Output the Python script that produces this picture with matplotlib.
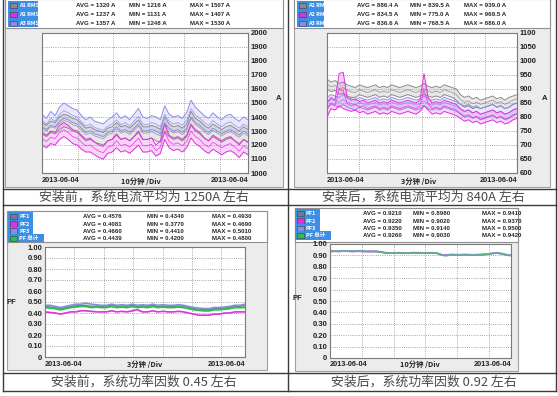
import numpy as np
import matplotlib
matplotlib.use('Agg')
import matplotlib.pyplot as plt
from matplotlib.patches import Rectangle

# ---------------- data ----------------
# Panel 1: current before (A)
P1_A1_HI = [1360,1340,1370,1360,1400,1420,1410,1390,1380,1350,1320,1330,1310,1300,1290,1320,1330,1360,1330,1340,1320,1350,1380,1330,
            1330,1340,1330,1310,1400,1350,1330,1340,1320,1350,1440,1390,1370,1340,1320,1350,1330,1310,1330,1340,1320,1300,1330,1310]
P1_A1_LO = [1280,1260,1290,1280,1310,1330,1320,1300,1290,1260,1230,1240,1220,1210,1200,1230,1240,1270,1240,1250,1230,1260,1290,1240,
            1240,1250,1230,1220,1300,1260,1240,1250,1230,1260,1340,1300,1280,1250,1230,1260,1240,1220,1240,1250,1230,1210,1240,1220]
P1_A2_HI = [1290,1270,1300,1290,1340,1360,1340,1310,1300,1270,1240,1250,1220,1200,1190,1230,1240,1280,1240,1250,1230,1260,1300,1240,
            1240,1250,1200,1230,1350,1270,1250,1260,1240,1270,1350,1310,1290,1250,1230,1270,1250,1230,1250,1260,1230,1200,1240,1220]
P1_A2_LO = [1200,1180,1210,1200,1240,1260,1240,1210,1200,1170,1150,1150,1130,1110,1100,1140,1150,1180,1150,1160,1140,1170,1200,1150,
            1150,1160,1120,1140,1240,1180,1160,1170,1150,1180,1250,1210,1190,1160,1140,1170,1150,1130,1150,1160,1140,1110,1150,1130]
P1_A3_HI = [1420,1390,1440,1410,1470,1500,1480,1460,1450,1410,1380,1400,1370,1360,1350,1380,1400,1430,1390,1410,1380,1420,1460,1400,
            1390,1410,1400,1380,1480,1420,1400,1410,1390,1430,1520,1470,1440,1410,1390,1430,1400,1380,1410,1420,1390,1370,1400,1380]
P1_A3_LO = [1330,1310,1340,1330,1370,1390,1380,1360,1350,1320,1290,1300,1280,1270,1260,1290,1300,1330,1300,1310,1290,1320,1350,1300,
            1300,1310,1300,1280,1360,1320,1300,1310,1290,1320,1400,1360,1340,1310,1290,1320,1300,1280,1300,1310,1290,1270,1300,1280]
P1_AVG = [1320, 1237, 1357]
P1_MIN = [1216, 1131, 1248]
P1_MAX = [1507, 1407, 1530]

# Panel 2: current after (A)
P2_A1_HI = [935,925,930,920,925,915,910,905,915,910,905,910,915,905,910,905,915,910,905,910,915,910,905,910,
            920,910,905,910,905,915,910,905,900,880,870,875,865,870,860,865,870,875,865,870,860,870,875,880]
P2_A1_LO = [900,890,895,880,885,875,870,870,880,875,870,875,880,870,875,870,880,875,870,875,880,875,870,875,
            880,875,870,875,870,880,875,870,860,845,835,840,830,835,830,835,840,845,835,840,830,835,845,850]
P2_A2_HI = [850,870,860,955,960,870,860,865,855,860,850,855,860,850,855,850,860,855,850,855,860,855,850,860,
            955,870,850,855,850,860,855,850,845,830,820,825,815,820,810,815,820,825,815,820,810,815,825,830]
P2_A2_LO = [800,830,825,840,830,825,820,825,815,820,810,815,820,810,815,810,820,815,810,815,820,815,810,820,
            840,825,810,815,810,820,815,810,805,795,785,790,780,785,775,780,785,790,780,785,775,780,790,795]
P2_A3_HI = [870,880,875,870,880,870,865,860,870,865,860,865,870,860,865,860,870,865,860,865,870,865,860,865,
            875,865,860,865,860,870,865,860,855,845,840,845,835,840,830,835,840,845,835,840,830,835,845,850]
P2_A3_LO = [835,845,840,835,845,835,830,825,835,830,825,830,835,825,830,825,835,830,825,830,835,830,825,830,
            840,830,825,830,825,835,830,825,820,810,800,805,795,800,790,795,800,805,795,800,790,795,805,810]
P2_AVG = [886.4, 834.5, 836.6]
P2_MIN = [839.5, 775.0, 768.5]
P2_MAX = [939.0, 969.5, 886.0]

# Panel 3: PF before
P3_PF1 = [0.46,0.455,0.45,0.44,0.45,0.46,0.465,0.47,0.47,0.46,0.465,0.46,0.46,0.47,0.46,0.465,0.46,0.47,0.46,0.465,
          0.46,0.47,0.46,0.465,0.46,0.46,0.465,0.46,0.45,0.44,0.435,0.43,0.43,0.44,0.44,0.445,0.45,0.46,0.46,0.47]
P3_PF2 = [0.41,0.405,0.40,0.39,0.40,0.41,0.41,0.42,0.42,0.415,0.41,0.41,0.41,0.42,0.41,0.415,0.41,0.42,0.43,0.41,
          0.41,0.42,0.41,0.415,0.41,0.41,0.415,0.41,0.40,0.39,0.38,0.38,0.38,0.39,0.39,0.40,0.40,0.41,0.41,0.41]
P3_PF3 = [0.47,0.47,0.46,0.45,0.46,0.47,0.48,0.48,0.49,0.48,0.475,0.47,0.47,0.48,0.47,0.475,0.47,0.48,0.47,0.475,
          0.47,0.48,0.47,0.475,0.47,0.47,0.475,0.47,0.46,0.45,0.445,0.44,0.44,0.45,0.45,0.455,0.46,0.47,0.47,0.48]
P3_PFT = [0.45,0.445,0.44,0.43,0.44,0.45,0.455,0.46,0.46,0.45,0.455,0.45,0.45,0.46,0.45,0.455,0.45,0.46,0.45,0.455,
          0.45,0.46,0.45,0.455,0.45,0.45,0.455,0.45,0.44,0.43,0.425,0.42,0.42,0.43,0.43,0.435,0.44,0.45,0.45,0.45]
P3_AVG = [0.4576, 0.4081, 0.4660, 0.4439]
P3_MIN = [0.4340, 0.3770, 0.4410, 0.4200]
P3_MAX = [0.4930, 0.4690, 0.5010, 0.4800]

# Panel 4: PF after
P4_PF1 = [0.935,0.937,0.935,0.938,0.936,0.935,0.937,0.936,0.935,0.934,0.935,0.930,0.922,0.920,0.921,0.922,0.920,0.921,0.923,0.922,
          0.920,0.921,0.922,0.920,0.905,0.900,0.906,0.905,0.904,0.906,0.905,0.904,0.905,0.907,0.910,0.918,0.922,0.915,0.905,0.900]
P4_PF2 = [0.933,0.935,0.934,0.936,0.935,0.934,0.935,0.934,0.933,0.933,0.933,0.928,0.920,0.918,0.919,0.920,0.918,0.919,0.921,0.920,
          0.918,0.919,0.920,0.918,0.907,0.903,0.908,0.907,0.906,0.908,0.907,0.906,0.907,0.909,0.912,0.916,0.920,0.913,0.907,0.903]
P4_PF3 = [0.938,0.940,0.938,0.941,0.939,0.938,0.940,0.939,0.938,0.937,0.938,0.933,0.925,0.923,0.924,0.925,0.923,0.924,0.926,0.925,
          0.923,0.924,0.925,0.923,0.908,0.903,0.909,0.908,0.907,0.909,0.908,0.907,0.908,0.910,0.913,0.921,0.925,0.918,0.908,0.903]
P4_PFT = [0.935,0.936,0.935,0.937,0.936,0.935,0.936,0.935,0.934,0.934,0.934,0.929,0.921,0.919,0.920,0.921,0.919,0.920,0.922,0.921,
          0.919,0.920,0.921,0.919,0.902,0.896,0.903,0.902,0.901,0.903,0.902,0.901,0.902,0.904,0.908,0.917,0.921,0.913,0.902,0.897]
P4_AVG = [0.9210, 0.9220, 0.9350, 0.9260]
P4_MIN = [0.8980, 0.9020, 0.9140, 0.9030]
P4_MAX = [0.9410, 0.9370, 0.9500, 0.9420]

CURRENT_LABELS = ['A1 RMS', 'A2 RMS', 'A3 RMS']
PF_LABELS = ['PF1', 'PF2', 'PF3', 'PF 总计']
DATE = '2013-06-04'
CAPTIONS = ['安装前，系统电流平均为 1250A 左右', '安装后，系统电流平均为 840A 左右',
            '安装前，系统功率因数 0.45 左右', '安装后，系统功率因数 0.92 左右']
DIVS = ['10分钟 /Div', '3分钟 /Div', '3分钟 /Div', '10分钟 /Div']

# ---------------- style ----------------
C_A1 = '#8a8a8a'
C_A2 = '#e030e0'
C_A3 = '#8c8ce6'
C_PF1 = '#6e7c9c'
C_PFT = '#2cc04a'
LEG_BG = '#3d8fe6'

NUM = ['Liberation Sans Narrow', 'Liberation Sans', 'DejaVu Sans']
MIX = ['Liberation Sans Narrow', 'Noto Sans CJK SC', 'DejaVu Sans']
CJK = ['Noto Sans CJK SC', 'DejaVu Sans']

W, H = 558, 396
fig = plt.figure(figsize=(W / 100, H / 100), dpi=100)
fig.patch.set_facecolor('white')

bg = fig.add_axes([0, 0, 1, 1])
bg.set_xlim(0, W)
bg.set_ylim(H, 0)
bg.axis('off')


def pax(x0, y0, x1, y1):
    return fig.add_axes([x0 / W, 1 - y1 / H, (x1 - x0) / W, (y1 - y0) / H])


def frame(x0, y0, x1, y1, hh):
    bg.add_patch(Rectangle((x0, y0), x1 - x0, y1 - y0, fc='#ececec', ec='#a0a0a0', lw=0.8))
    bg.add_patch(Rectangle((x0, y0), x1 - x0, hh, fc='white', ec='#909090', lw=0.8))


def header(xl, ys, labels, colors, xs, avg, mn, mx, fmt, legw):
    for i, (y, lab, col) in enumerate(zip(ys, labels, colors)):
        w = legw[i] if isinstance(legw, list) else legw
        bg.add_patch(Rectangle((xl, y - 4.2), w, 8.4, fc=LEG_BG, ec='none'))
        bg.add_patch(Rectangle((xl + 2, y - 2.6), 7, 5.4, fc=col, ec='#404040', lw=0.4))
        bg.text(xl + 11, y + 0.3, lab, color='white', fontsize=4.0, fontweight='bold',
                va='center', ha='left', family=MIX)
        for x, name, v in zip(xs, ['AVG', 'MIN', 'MAX'], [avg[i], mn[i], mx[i]]):
            bg.text(x, y + 0.3, f'{name} = ' + fmt(v), fontsize=4.4, fontweight='bold',
                    va='center', ha='left', color='#262626', family=NUM)


def style(ax, ylim, yticks, ylabels, side, ndiv):
    ax.set_facecolor('white')
    for s in ax.spines.values():
        s.set_color('#7a7a7a')
        s.set_linewidth(0.8)
    ax.set_ylim(*ylim)
    ax.set_yticks(yticks)
    ax.set_yticklabels(ylabels, fontsize=5.5, fontweight='bold', color='#222222', family=NUM)
    if side == 'right':
        ax.yaxis.tick_right()
    ax.tick_params(length=0, pad=2)
    ax.grid(True, color='#8a8a8a', ls=(0, (1, 1.6)), lw=0.6)
    ax.set_axisbelow(True)


def xsetup(ax, n, ndiv):
    ax.set_xlim(0, n - 1)
    ax.set_xticks(np.arange(1, int(ndiv) + 1) * (n - 1) / ndiv)
    ax.set_xticklabels([])


def band(ax, hi, lo, col, alpha=0.2):
    x = np.arange(len(hi))
    hi = np.array(hi, float)
    lo = np.array(lo, float)
    ax.fill_between(x, lo, hi, color=col, alpha=alpha, lw=0)
    ax.plot(x, hi, color=col, lw=0.7)
    ax.plot(x, lo, color=col, lw=0.7)
    ax.plot(x, (hi + lo) / 2, color=col, lw=0.6, alpha=0.8)


def bottom_labels(x0, x1, y, div, xc):
    bg.text(x0, y, DATE, fontsize=5.3, fontweight='bold', ha='left', va='center', color='#222222', family=NUM)
    bg.text(x1, y, DATE, fontsize=5.3, fontweight='bold', ha='right', va='center', color='#222222', family=NUM)
    bg.text(xc, y, div, fontsize=5.3, fontweight='bold', ha='center', va='center', color='#222222', family=MIX)


# ---------- screenshot frames ----------
frame(5, -1, 283, 187, 29)
frame(294, -1, 550, 187, 29)
frame(7, 211, 267, 370, 31)
frame(295, 208, 518, 371, 34)

# ---------- panel 1 ----------
header(8, [5.5, 14.5, 23.2], CURRENT_LABELS, [C_A1, C_A2, C_A3], [76, 129, 190],
       P1_AVG, P1_MIN, P1_MAX, lambda v: f'{v} A', 30)
ax1 = pax(42, 33, 248, 173)
style(ax1, (1000, 2000), np.arange(1000, 2001, 100), [str(v) for v in range(1000, 2001, 100)], 'right', 5.8)
xsetup(ax1, len(P1_A1_HI), 5.8)
band(ax1, P1_A1_HI, P1_A1_LO, C_A1)
band(ax1, P1_A2_HI, P1_A2_LO, C_A2)
band(ax1, P1_A3_HI, P1_A3_LO, C_A3)
bottom_labels(42, 248, 181, DIVS[0], 141)
bg.text(279, 98, 'A', fontsize=5.5, fontweight='bold', ha='center', va='center', color='#222222', family=NUM)

# ---------- panel 2 ----------
header(297, [5.5, 14.5, 23.2], CURRENT_LABELS, [C_A1, C_A2, C_A3], [357, 410, 464],
       P2_AVG, P2_MIN, P2_MAX, lambda v: f'{v:.1f} A', 27)
ax2 = pax(327, 33, 517, 173)
style(ax2, (600, 1100), np.arange(600, 1101, 50), [str(v) for v in range(600, 1101, 50)], 'right', 6.0)
xsetup(ax2, len(P2_A1_HI), 6.0)
band(ax2, P2_A1_HI, P2_A1_LO, C_A1)
band(ax2, P2_A3_HI, P2_A3_LO, C_A3)
band(ax2, P2_A2_HI, P2_A2_LO, C_A2)
bottom_labels(327, 517, 181, DIVS[1], 419)
bg.text(545, 98, 'A', fontsize=5.5, fontweight='bold', ha='center', va='center', color='#222222', family=NUM)

pf_ticks = np.round(np.arange(0, 1.001, 0.1), 2)
pf_labels = ['0'] + [f'{v:.2f}' for v in pf_ticks[1:]]

# ---------- panel 3 ----------
header(8, [216.5, 223.8, 231.0, 238.2], PF_LABELS, [C_PF1, C_A2, C_A3, C_PFT], [83, 147, 212],
       P3_AVG, P3_MIN, P3_MAX, lambda v: f'{v:.4f}', [25, 25, 25, 36])
ax3 = pax(45, 247, 245, 357)
style(ax3, (0, 1.0), pf_ticks, pf_labels, 'left', 6.8)
xsetup(ax3, len(P3_PF1), 6.8)
x3 = np.arange(len(P3_PF1))
ax3.plot(x3, P3_PF2, color=C_A2, lw=1.2)
ax3.plot(x3, P3_PF1, color=C_PF1, lw=1.0)
ax3.plot(x3, P3_PF3, color=C_A3, lw=1.2)
ax3.plot(x3, P3_PFT, color=C_PFT, lw=1.4)
bottom_labels(45, 245, 364.5, DIVS[2], 145)
bg.text(11, 303, 'PF', fontsize=5.5, fontweight='bold', ha='center', va='center', color='#222222', family=NUM)

# ---------- panel 4 ----------
header(295, [213.5, 220.8, 228.2, 235.5], PF_LABELS, [C_PF1, C_A2, C_A3, C_PFT], [363, 413, 482],
       P4_AVG, P4_MIN, P4_MAX, lambda v: f'{v:.4f}', [25, 25, 25, 36])
ax4 = pax(330, 244, 511, 358)
style(ax4, (0, 1.0), pf_ticks, pf_labels, 'left', 5.7)
xsetup(ax4, len(P4_PF1), 5.7)
x4 = np.arange(len(P4_PF1))
ax4.plot(x4, P4_PF1, color=C_PF1, lw=1.0)
ax4.plot(x4, P4_PF2, color=C_A2, lw=1.0)
ax4.plot(x4, P4_PF3, color=C_A3, lw=1.0)
ax4.plot(x4, P4_PFT, color='#58b87a', lw=1.1)
bottom_labels(330, 511, 364.5, DIVS[3], 420)
bg.text(297, 298, 'PF', fontsize=5.5, fontweight='bold', ha='center', va='center', color='#222222', family=NUM)

# ---------- table lines & captions ----------
TC = '#3a3a3a'
for x in (3, 288, 556):
    bg.plot([x, x], [-1, 391], color=TC, lw=1.0)
for y in (189, 205, 373, 391):
    bg.plot([3, 556], [y, y], color=TC, lw=1.0)

cap_pos = [(144, 197.5), (423, 197.5), (144, 382.5), (424, 382.5)]
for (cx, cy), t in zip(cap_pos, CAPTIONS):
    bg.text(cx, cy, t, fontsize=9.3, ha='center', va='center', color='#4a4a4a', family=CJK)

bg.set_zorder(0)
for a in (ax1, ax2, ax3, ax4):
    a.set_zorder(1)
fig.savefig('out.png', dpi=100, facecolor='white')
